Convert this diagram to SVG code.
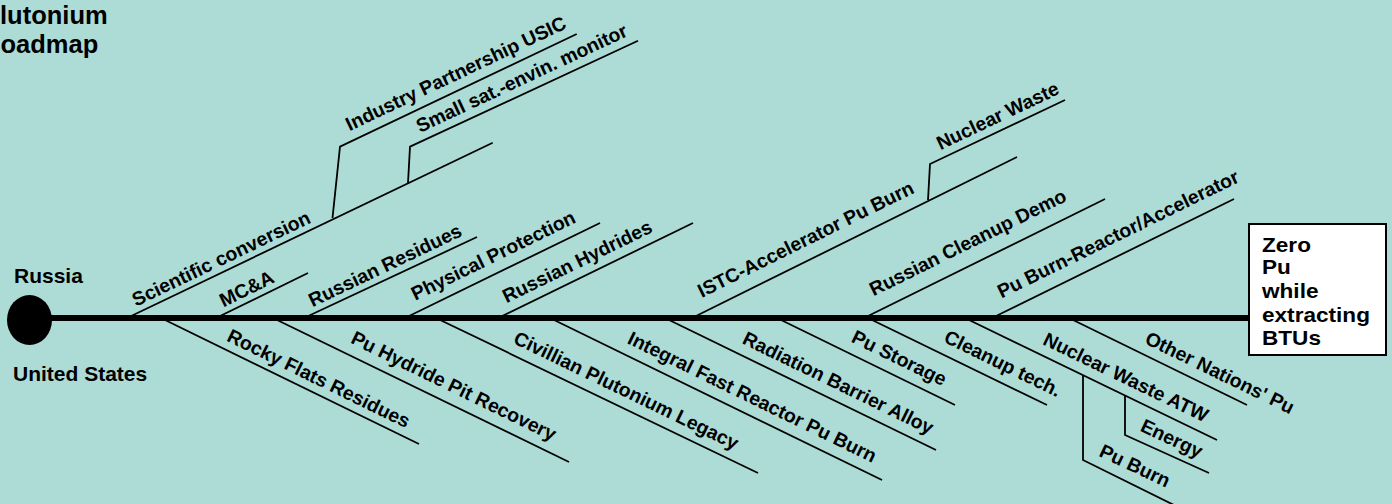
<svg xmlns="http://www.w3.org/2000/svg" width="1392" height="504" viewBox="0 0 1392 504">
<style>
.bg{fill:#ADDCD7}
text{font-family:"Liberation Sans",Arial,Helvetica,sans-serif;font-weight:bold;fill:#000}
.lbl{font-size:19.4px;text-anchor:middle}
.side{font-size:21px}
.title{font-size:25.5px}
.goal{font-size:20px}
.br{stroke:#000;stroke-width:1.8;fill:none}
.spine{stroke:#000;stroke-width:6;fill:none}
</style>
<rect class="bg" x="0" y="0" width="1392" height="504"/>

<g id="title">
<text class="title" x="0" y="23.5">lutonium</text>
<text class="title" x="0.5" y="53">oadmap</text>
</g>

<g id="connectors">
<line class="spine" x1="29" y1="318" x2="1249" y2="318"/>
<!-- upper branches -->
<line class="br" x1="127" y1="318" x2="492.7" y2="142.7"/>
<line class="br" x1="216" y1="318" x2="308" y2="273"/>
<line class="br" x1="304" y1="318" x2="477" y2="237"/>
<line class="br" x1="405" y1="318" x2="600" y2="223"/>
<line class="br" x1="498" y1="318" x2="693" y2="223"/>
<line class="br" x1="692" y1="318" x2="1017" y2="157"/>
<line class="br" x1="864" y1="318" x2="1105" y2="199"/>
<line class="br" x1="992" y1="318" x2="1234" y2="199"/>
<polyline class="br" points="332.5,218 340,146.7 576.7,34"/>
<polyline class="br" points="408,183 410,146.7 638,40.7"/>
<polyline class="br" points="928,200 930,164 1065,100"/>
<!-- lower branches -->
<line class="br" x1="161" y1="318" x2="419" y2="444"/>
<line class="br" x1="273" y1="318" x2="569" y2="462"/>
<line class="br" x1="436" y1="318" x2="758" y2="473"/>
<line class="br" x1="550" y1="318" x2="882" y2="480"/>
<line class="br" x1="665" y1="318" x2="936" y2="450"/>
<line class="br" x1="777" y1="318" x2="955" y2="405"/>
<line class="br" x1="868" y1="318" x2="1047" y2="405"/>
<line class="br" x1="965" y1="318" x2="1217" y2="440"/>
<line class="br" x1="1069" y1="318" x2="1247" y2="405"/>
<polyline class="br" points="1083,375 1083,460 1180,508"/>
<polyline class="br" points="1125,395 1125,435 1209,473"/>
</g>

<g id="origin"><ellipse cx="29.5" cy="320" rx="22.5" ry="25" fill="#000"/></g>
<g id="russia"><text class="side" x="14" y="283">Russia</text></g>
<g id="united-states"><text class="side" x="13" y="381">United States</text></g>

<g id="goal">
<rect x="1249" y="224" width="137" height="131" fill="#fff" stroke="#000" stroke-width="2"/>
<g transform="translate(1262,0) scale(1.13,1)">
<text class="goal" x="0" y="251.7">Zero</text>
<text class="goal" x="0" y="274.3">Pu</text>
<text class="goal" x="0" y="298">while</text>
<text class="goal" x="0" y="321.7">extracting</text>
<text class="goal" x="0" y="345">BTUs</text>
</g>
</g>

<!-- upper labels -->
<g id="n-scientific" transform="translate(221,258.3) rotate(-25.6)"><text class="lbl" y="6.9">Scientific conversion</text></g>
<g id="n-mca" transform="translate(246.5,288.5) rotate(-26)"><text class="lbl" y="6.9">MC&amp;A</text></g>
<g id="n-russian-residues" transform="translate(385,265) rotate(-25.5)"><text class="lbl" y="6.9">Russian Residues</text></g>
<g id="n-physical-protection" transform="translate(494,257) rotate(-26)"><text class="lbl" y="4.9">Physical Protection</text></g>
<g id="n-russian-hydrides" transform="translate(578,263) rotate(-26)"><text class="lbl" y="4.9">Russian Hydrides</text></g>
<g id="n-usic" transform="translate(456.5,75) rotate(-25.4)"><text class="lbl" y="4.9">Industry Partnership USIC</text></g>
<g id="n-smallsat" transform="translate(521.5,78) rotate(-25)"><text class="lbl" y="6.9">Small sat.-envin. monitor</text></g>
<g id="n-istc" transform="translate(805.5,239) rotate(-26.3)"><text class="lbl" y="6.9">ISTC-Accelerator Pu Burn</text></g>
<g id="n-nuclear-waste" transform="translate(997.5,115.5) rotate(-25.4)"><text class="lbl" y="6.9">Nuclear Waste</text></g>
<g id="n-cleanup-demo" transform="translate(968.5,244) rotate(-26.3)"><text class="lbl" y="4.9">Russian Cleanup Demo</text></g>
<g id="n-pu-burn-ra" transform="translate(1118,234) rotate(-26.1)"><text class="lbl" y="6.6">Pu Burn-Reactor/Accelerator</text></g>

<!-- lower labels -->
<g id="n-rocky-flats" transform="translate(318,380) rotate(26)"><text class="lbl" y="4.9">Rocky Flats Residues</text></g>
<g id="n-pit-recovery" transform="translate(453,387.5) rotate(26)"><text class="lbl" y="4.9">Pu Hydride Pit Recovery</text></g>
<g id="n-civillian" transform="translate(625.5,392) rotate(25.8)"><text class="lbl" y="4.9">Civillian Plutonium Legacy</text></g>
<g id="n-ifr" transform="translate(751.5,398.5) rotate(26)"><text class="lbl" y="4.9">Integral Fast Reactor Pu Burn</text></g>
<g id="n-radiation" transform="translate(837.5,384.5) rotate(26)"><text class="lbl" y="4.9">Radiation Barrier Alloy</text></g>
<g id="n-pu-storage" transform="translate(898.5,359.5) rotate(26)"><text class="lbl" y="4.9">Pu Storage</text></g>
<g id="n-cleanup-tech" transform="translate(1002,365) rotate(26)"><text class="lbl" y="4.9">Cleanup tech.</text></g>
<g id="n-nw-atw" transform="translate(1126,377) rotate(25.8)"><text class="lbl" y="6.9">Nuclear Waste ATW</text></g>
<g id="n-energy" transform="translate(1171,440) rotate(25)"><text class="lbl" y="4.9">Energy</text></g>
<g id="n-pu-burn" transform="translate(1135,465.5) rotate(25)"><text class="lbl" y="6.9">Pu Burn</text></g>
<g id="n-other-nations" transform="translate(1220,372.5) rotate(26)"><text class="lbl" y="6.9">Other Nations' Pu</text></g>
</svg>
